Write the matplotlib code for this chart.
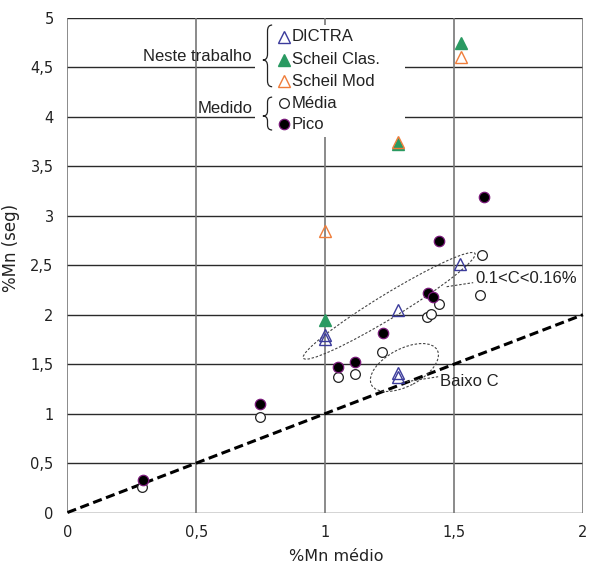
import numpy as np
import matplotlib
matplotlib.use("Agg")
import matplotlib.pyplot as plt
from matplotlib.patches import Ellipse, Rectangle, PathPatch
from matplotlib.path import Path
from matplotlib.transforms import ScaledTranslation

plt.rcParams["font.family"] = ["Liberation Sans", "DejaVu Sans"]

# ---------------- data ----------------
media_x = [0.29, 0.747, 1.048, 1.116, 1.222, 1.393, 1.41, 1.442, 1.60, 1.61]
media_y = [0.26, 0.97, 1.37, 1.40, 1.62, 1.98, 2.01, 2.11, 2.20, 2.60]

pico_x = [0.294, 0.747, 1.05, 1.114, 1.223, 1.397, 1.417, 1.442, 1.617]
pico_y = [0.325, 1.094, 1.47, 1.52, 1.815, 2.22, 2.18, 2.75, 3.19]

dictra_x = [1.0, 1.0, 1.283, 1.283, 1.283, 1.522]
dictra_y = [1.79, 1.75, 1.41, 1.37, 2.05, 2.51]

scheil_clas_x = [1.0, 1.283, 1.525]
scheil_clas_y = [1.95, 3.73, 4.75]

scheil_mod_x = [1.0, 1.283, 1.525]
scheil_mod_y = [2.85, 3.75, 4.61]

ref_line_x = [0, 2]
ref_line_y = [0, 2]

x_ticks = [0, 0.5, 1, 1.5, 2]
y_ticks = [0, 0.5, 1, 1.5, 2, 2.5, 3, 3.5, 4, 4.5, 5]

COL_DICTRA = "#3b3b9b"
COL_CLAS = "#2a9a62"
COL_MOD = "#ef7d3a"
COL_PICO_EDGE = "#7a1a7a"
TXT = "#222222"
WIDE = ["DejaVu Sans"]


def fmt(v):
    s = ("%g" % v)
    return s.replace(".", ",")


def draw_brace(ax, x, y0, y1, ytip, w, d):
    xm = x + w / 2
    verts = [
        (x + w, y1), (xm, y1), (xm, y1 - d),
        (xm, ytip + d),
        (xm, ytip), (x, ytip),
        (xm, ytip), (xm, ytip - d),
        (xm, y0 + d),
        (xm, y0), (x + w, y0),
    ]
    codes = [Path.MOVETO, Path.CURVE3, Path.CURVE3,
             Path.LINETO,
             Path.CURVE3, Path.CURVE3,
             Path.CURVE3, Path.CURVE3,
             Path.LINETO,
             Path.CURVE3, Path.CURVE3]
    ax.add_patch(PathPatch(Path(verts, codes), transform=ax.transAxes,
                           fill=False, lw=0.9, edgecolor=TXT, zorder=6,
                           clip_on=False))


fig = plt.figure(figsize=(5.89, 5.68), dpi=100)
ax = fig.add_axes([0.1146, 0.0977, 0.8752, 0.8706])

ax.set_xlim(0, 2)
ax.set_ylim(0, 5)

# grid
for yv in y_ticks:
    ax.axhline(yv, color="#2a2a2a", lw=1.0, zorder=1)
for xv in x_ticks:
    ax.axvline(xv, color="#777777", lw=1.2, zorder=1)
for sp in ax.spines.values():
    sp.set_visible(False)

ax.set_xticks(x_ticks)
ax.set_yticks(y_ticks)
ax.set_xticklabels([fmt(v) for v in x_ticks], family=WIDE)
ax.set_yticklabels([fmt(v) for v in y_ticks], family=WIDE)
ax.tick_params(length=0, labelsize=10.5, colors=TXT)
ax.tick_params(axis="y", pad=10)
ax.tick_params(axis="x", pad=9)

ax.set_xlabel("%Mn médio", fontsize=11.5, color=TXT, family=WIDE)
ax.set_ylabel("%Mn (seg)", fontsize=12, color=TXT, family=WIDE)
ax.xaxis.set_label_coords(0.522, -0.073)
ax.yaxis.set_label_coords(-0.092, 0.536)

# 1:1 line
ax.plot(ref_line_x, ref_line_y, color="black", lw=2.2, ls=(0, (3.0, 1.5)),
        zorder=3, clip_on=False)

# ellipses (size in inches, anchored in data)
def ellipse(cx, cy, w_in, h_in, ang):
    tr = fig.dpi_scale_trans + ScaledTranslation(cx, cy, ax.transData)
    ax.add_patch(Ellipse((0, 0), w_in, h_in, angle=ang, transform=tr,
                         fill=False, ls=(0, (2.2, 1.6)), lw=0.8,
                         edgecolor="#444444", zorder=4))

ellipse(1.248, 2.09, 2.01, 0.24, 31.4)
ellipse(1.307, 1.466, 0.744, 0.374, 27.8)

# leader lines
ax.plot([1.471, 1.574], [2.283, 2.324], color="#444444", lw=0.8,
        ls=(0, (2.2, 1.6)), zorder=4)
ax.plot([1.316, 1.438], [1.323, 1.373], color="#444444", lw=0.8,
        ls=(0, (2.2, 1.6)), zorder=4)
ax.text(1.581, 2.368, "0.1<C<0.16%", fontsize=12, va="center", ha="left",
        color=TXT, zorder=6)
ax.text(1.445, 1.323, "Baixo C", fontsize=12, va="center", ha="left",
        color=TXT, zorder=6)

# data markers
ax.plot(media_x, media_y, ls="none", marker="o", ms=7, mfc="white",
        mec=TXT, mew=0.9, zorder=5)
ax.plot(pico_x, pico_y, ls="none", marker="o", ms=7.5, mfc="black",
        mec=COL_PICO_EDGE, mew=0.9, zorder=5)
ax.plot(dictra_x, dictra_y, ls="none", marker="^", ms=9, mfc="none",
        mec=COL_DICTRA, mew=1.0, zorder=5)
ax.plot(scheil_clas_x, scheil_clas_y, ls="none", marker="^", ms=9,
        mfc=COL_CLAS, mec=COL_CLAS, mew=1.0, zorder=5)
ax.plot(scheil_mod_x, scheil_mod_y, ls="none", marker="^", ms=9, mfc="none",
        mec=COL_MOD, mew=1.0, zorder=5)

# legend (manual)
ax.add_patch(Rectangle((0.3637, 0.7594), 0.291, 0.2264, transform=ax.transAxes,
                       facecolor="white", edgecolor="none", zorder=2))
leg_rows = [
    ("DICTRA", dict(marker="^", ms=9, mfc="none", mec=COL_DICTRA, mew=1.0)),
    ("Scheil Clas.", dict(marker="^", ms=9, mfc=COL_CLAS, mec=COL_CLAS, mew=1.0)),
    ("Scheil Mod", dict(marker="^", ms=9, mfc="none", mec=COL_MOD, mew=1.0)),
    ("Média", dict(marker="o", ms=7, mfc="white", mec=TXT, mew=0.9)),
    ("Pico", dict(marker="o", ms=7.5, mfc="black", mec=COL_PICO_EDGE, mew=0.9)),
]
leg_y = [0.9622, 0.9151, 0.8726, 0.8275, 0.785]
for (lab, st), yy in zip(leg_rows, leg_y):
    ax.plot([0.42], [yy], ls="none", transform=ax.transAxes, zorder=6,
            clip_on=False, **st)
    ax.text(0.4355, yy, lab, transform=ax.transAxes, fontsize=12,
            va="center", ha="left", color=TXT, zorder=6)

ax.text(0.3573, 0.9217, "Neste trabalho", transform=ax.transAxes,
        fontsize=12, va="center", ha="right", color=TXT, zorder=6)
ax.text(0.3593, 0.816, "Medido", transform=ax.transAxes,
        fontsize=12, va="center", ha="right", color=TXT, zorder=6)
draw_brace(ax, 0.379, 0.861, 0.9858, 0.915, 0.018, 0.012)
draw_brace(ax, 0.379, 0.7735, 0.840, 0.8018, 0.018, 0.010)

fig.savefig("out.png", dpi=100)
